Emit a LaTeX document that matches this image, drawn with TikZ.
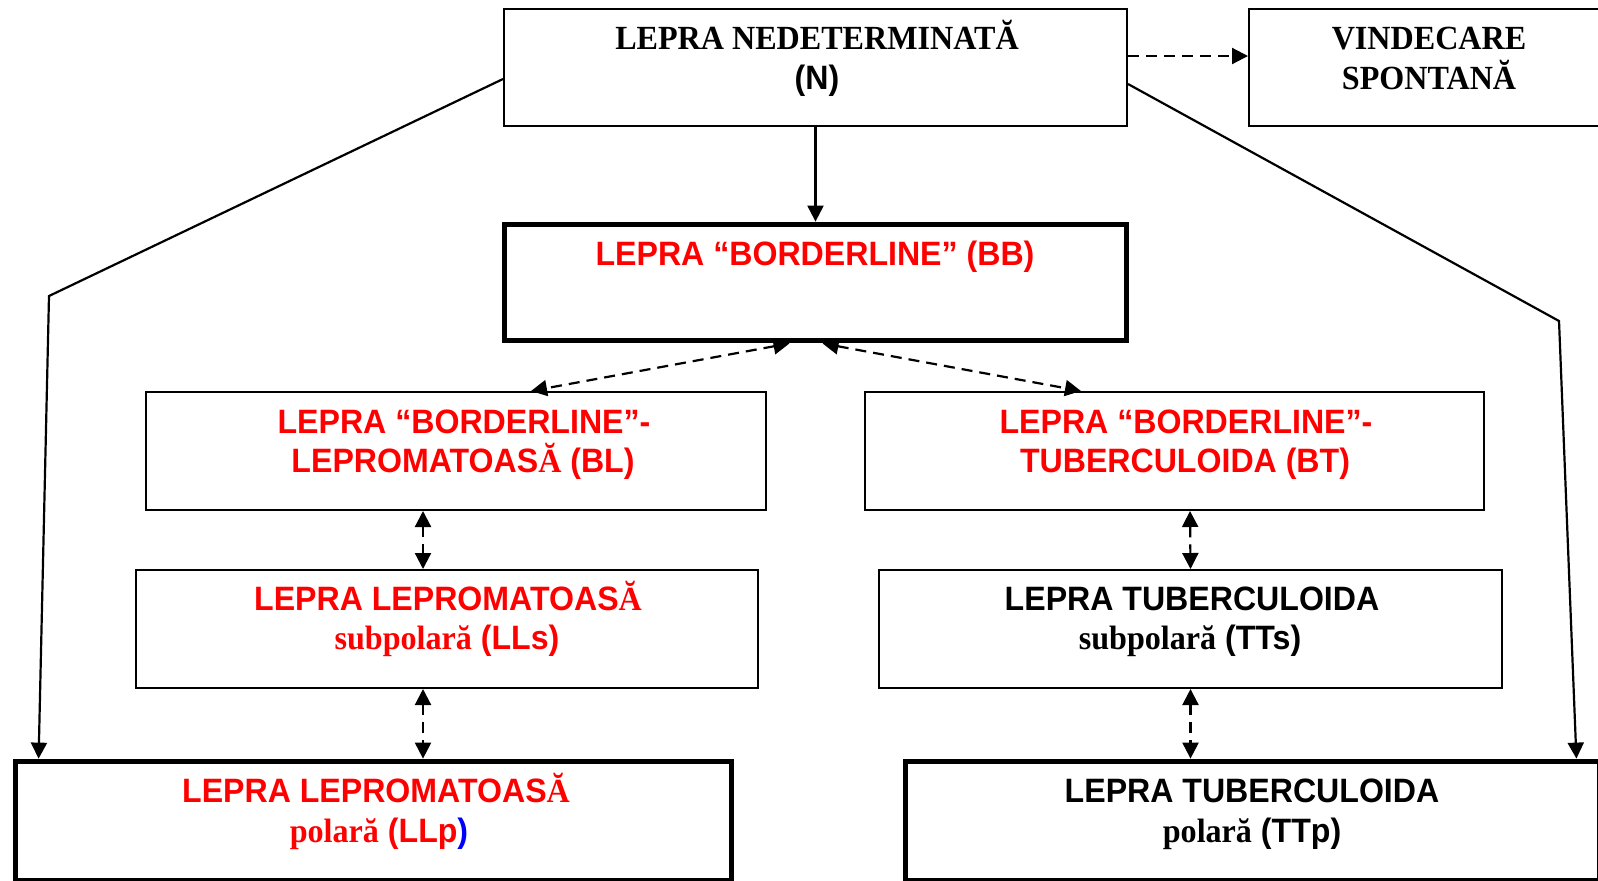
\documentclass[tikz,border=0pt]{standalone}
\usepackage{fontspec}
\setmainfont{Liberation Serif}[FakeStretch=0.95]
\newfontfamily\ar{Liberation Sans}[FakeStretch=0.95]
\usetikzlibrary{arrows.meta,calc}
\definecolor{lred}{RGB}{255,0,0}
\definecolor{lblue}{RGB}{0,0,255}
\newcommand{\sr}[1]{{\rmfamily\bfseries #1}}
\begin{document}
\begin{tikzpicture}[x=0.5pt,y=-0.5pt,
  box/.style n args={2}{draw,line width=1pt,inner sep=0pt,fill=none,
    minimum width={#1*0.5pt},minimum height={#2*0.5pt}},
  thickbox/.style n args={2}{box={#1}{#2},line width=2.9pt},
  stxt/.style={anchor=base,inner sep=0pt,font=\fontsize{16.9pt}{20pt}\selectfont\rmfamily\bfseries},
  atxt/.style={anchor=base,inner sep=0pt,font=\fontsize{16.9pt}{20pt}\selectfont\ar\bfseries},
  red/.style={text=lred},
  conn/.style={line width=1.1pt},
  dsh/.style={conn,dash pattern=on 5.5pt off 3.5pt},
  tip/.tip={Triangle[length=8pt,width=8pt]}
]
\useasboundingbox (0,0) rectangle (1598,880);
\clip (0,0) rectangle (1598,880);
\fill[white] (0,0) rectangle (1598,880);

% boxes
\node[box={623}{117}] (N) at (815.5,67.5) {};
\node[box={363}{117}] (V) at (1430.5,67.5) {};
\node[thickbox={622}{116}] (BB) at (815.5,282.5) {};
\node[box={620}{118}] (BL) at (456,451) {};
\node[box={619}{118}] (BT) at (1174.5,451) {};
\node[box={622}{118}] (LLs) at (447,629) {};
\node[box={623}{118}] (TTs) at (1190.5,629) {};
\node[thickbox={716}{119}] (LLp) at (373.5,821) {};
\node[thickbox={694}{119}] (TTp) at (1252.5,821) {};

% texts
\node[stxt] (Nt1) at (817,49) {LEPRA NEDETERMINATĂ};
\node[atxt] (Nt2) at (817,89) {(N)};
\node[stxt] (Vt1) at (1429,49) {VINDECARE};
\node[stxt] (Vt2) at (1429,89) {SPONTANĂ};
\node[atxt,red] (BBt) at (815,265) {LEPRA “BORDERLINE” (BB)};
\node[atxt,red] (BLt1) at (464,433) {LEPRA “BORDERLINE”-};
\node[atxt,red] (BLt2) at (463,472) {LEPROMATOAS\sr{Ă} (BL)};
\node[atxt,red] (BTt1) at (1186,433) {LEPRA “BORDERLINE”-};
\node[atxt,red] (BTt2) at (1185,472) {TUBERCULOIDA (BT)};
\node[atxt,red] (LLst1) at (448,610) {LEPRA LEPROMATOAS\sr{Ă}};
\node[atxt,red] (LLst2) at (447,649) {\sr{subpolară} (LLs)};
\node[atxt] (TTst1) at (1192,610) {LEPRA TUBERCULOIDA};
\node[atxt] (TTst2) at (1190,649) {\sr{subpolară} (TTs)};
\node[atxt,red] (LLpt1) at (376,802) {LEPRA LEPROMATOAS\sr{Ă}};
\node[atxt,red] (LLpt2) at (379,842) {\sr{polară} (LLp\textcolor{lblue}{)}};
\node[atxt] (TTpt1) at (1252,802) {LEPRA TUBERCULOIDA};
\node[atxt] (TTpt2) at (1252,842) {\sr{polară} (TTp)};

% connectors
\draw[conn,-tip] (N.south) -- (BB.north);
\draw[dsh,-tip] ($(N.east)+(0,-11.5)$) -- ($(V.west)+(0,-11.5)$);
\draw[conn,-tip] ($(N.west)+(0,11.5)$) -- (49,296) -- ($(LLp.north west)+(26,0)$);
\draw[conn,-tip] ($(N.east)+(0,16.5)$) -- (1559,321) -- ($(TTp.north east)+(-26,0)$);
\draw[dsh,tip-tip] ($(BB.south)+(-26,0)$) -- ($(BL.north)+(75,0)$);
\draw[dsh,tip-tip] ($(BB.south)+(7,0)$) -- ($(BT.north)+(-93.5,0)$);
\draw[dsh,tip-tip] ($(BL.south)+(-33,0)$) -- ($(LLs.north)+(-24,0)$);
\draw[dsh,tip-tip] ($(LLs.south)+(-24,0)$) -- ($(LLp.north)+(49.5,0)$);
\draw[dsh,tip-tip] ($(BT.south)+(15.5,0)$) -- (TTs.north);
\draw[dsh,tip-tip] (TTs.south) -- ($(TTp.north)+(-62,0)$);
\end{tikzpicture}
\end{document}
